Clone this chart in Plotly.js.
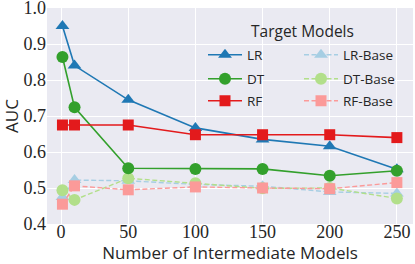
<!DOCTYPE html>
<html><head><meta charset="utf-8">
<script src="https://cdn.plot.ly/plotly-3.0.1.min.js"></script>
<style>html,body{margin:0;padding:0;background:#fff}#c{width:415px;height:264px}</style>
</head><body><div id="c"></div>
<script>
const xs = [1, 10, 50, 100, 150, 200, 250];
const lr = [0.95, 0.84, 0.745, 0.667, 0.635, 0.616, 0.552];
const dt = [0.864, 0.724, 0.555, 0.553, 0.553, 0.534, 0.548];
const rf = [0.675, 0.675, 0.675, 0.648, 0.648, 0.648, 0.640];
const lrBase = [0.475, 0.522, 0.52, 0.51, 0.505, 0.489, 0.485];
const dtBase = [0.494, 0.467, 0.527, 0.513, 0.499, 0.5, 0.471];
const rfBase = [0.455, 0.506, 0.495, 0.503, 0.5, 0.498, 0.515];
const names = ['LR','LR-Base','DT','DT-Base','RF','RF-Base'];
const xTicks = [0, 50, 100, 150, 200, 250];
const yTicks = [0.4, 0.5, 0.6, 0.7, 0.8, 0.9, 1.0];

function tr(name, y, color, symbol, dash, size, leg){
  return {x: xs, y: y, name: name, type:'scatter', mode:'lines+markers', legend: leg,
    line:{color:color, width: dash === 'solid' ? 1.6 : 1.4, dash:dash},
    marker:{color:color, symbol:symbol, size:size, line:{width:0}}};
}
const dashed = '5px,2.5px';
const data = [
  tr(names[1], lrBase, '#a6cee3', 'triangle-up', dashed, 12, 'legend4'),
  tr(names[3], dtBase, '#b2df8a', 'circle', dashed, 12, 'legend5'),
  tr(names[5], rfBase, '#fb9a99', 'square', dashed, 11, 'legend6'),
  tr(names[0], lr, '#1f78b4', 'triangle-up', 'solid', 12, 'legend'),
  tr(names[2], dt, '#33a02c', 'circle', 'solid', 12, 'legend2'),
  tr(names[4], rf, '#e31a1c', 'square', 'solid', 11, 'legend3')
];

// plot area in pixels: x 47..413, y 8..224
const fx = px => (px-47)/366;
const fy = py => (224-py)/216;
function leg(px, py){
  return {x:fx(px), y:fy(py), xanchor:'left', yanchor:'middle', bgcolor:'rgba(0,0,0,0)',
    font:{family:'Open Sans', size:13.5, color:'#262626'}, itemwidth:34, borderwidth:0};
}
const serif = '"Liberation Serif", "Times New Roman", serif';
const layout = {
  width:415, height:264,
  margin:{l:47, r:2, t:8, b:40},
  paper_bgcolor:'#ffffff', plot_bgcolor:'#eaeaf2',
  font:{family:'Open Sans', color:'#262626'},
  xaxis:{range:[-10.5,262], tickvals:xTicks, ticktext:xTicks.map(String),
    showgrid:true, gridcolor:'#ffffff', gridwidth:1, zeroline:false, showline:false, ticks:'',
    ticklabeloverflow:'allow', ticklabelstandoff:-5,
    tickfont:{family:serif, size:18, color:'#262626'},
    title:{text:'Number of Intermediate Models', font:{family:'Open Sans', size:17, color:'#262626'}, standoff:2}},
  yaxis:{range:[0.4,1.0], tickvals:yTicks, ticktext:yTicks.map(v=>v.toFixed(1)),
    showgrid:true, gridcolor:'#ffffff', gridwidth:1, zeroline:false, showline:false, ticks:'',
    ticklabeloverflow:'allow',
    tickfont:{family:serif, size:18, color:'#262626'},
    title:{text:'AUC', font:{family:'Open Sans', size:17, color:'#262626'}, standoff:4}},
  showlegend:true,
  legend:leg(203,55), legend2:leg(203,79), legend3:leg(203,101),
  legend4:leg(299,55), legend5:leg(299,79), legend6:leg(299,101),
  annotations:[{text:'Target Models', xref:'paper', yref:'paper', x:fx(302), y:fy(31),
    xanchor:'center', yanchor:'middle', showarrow:false,
    font:{family:'Open Sans', size:15.5, color:'#262626'}}]
};
Plotly.newPlot('c', data, layout, {displayModeBar:false, staticPlot:true});
</script></body></html>
